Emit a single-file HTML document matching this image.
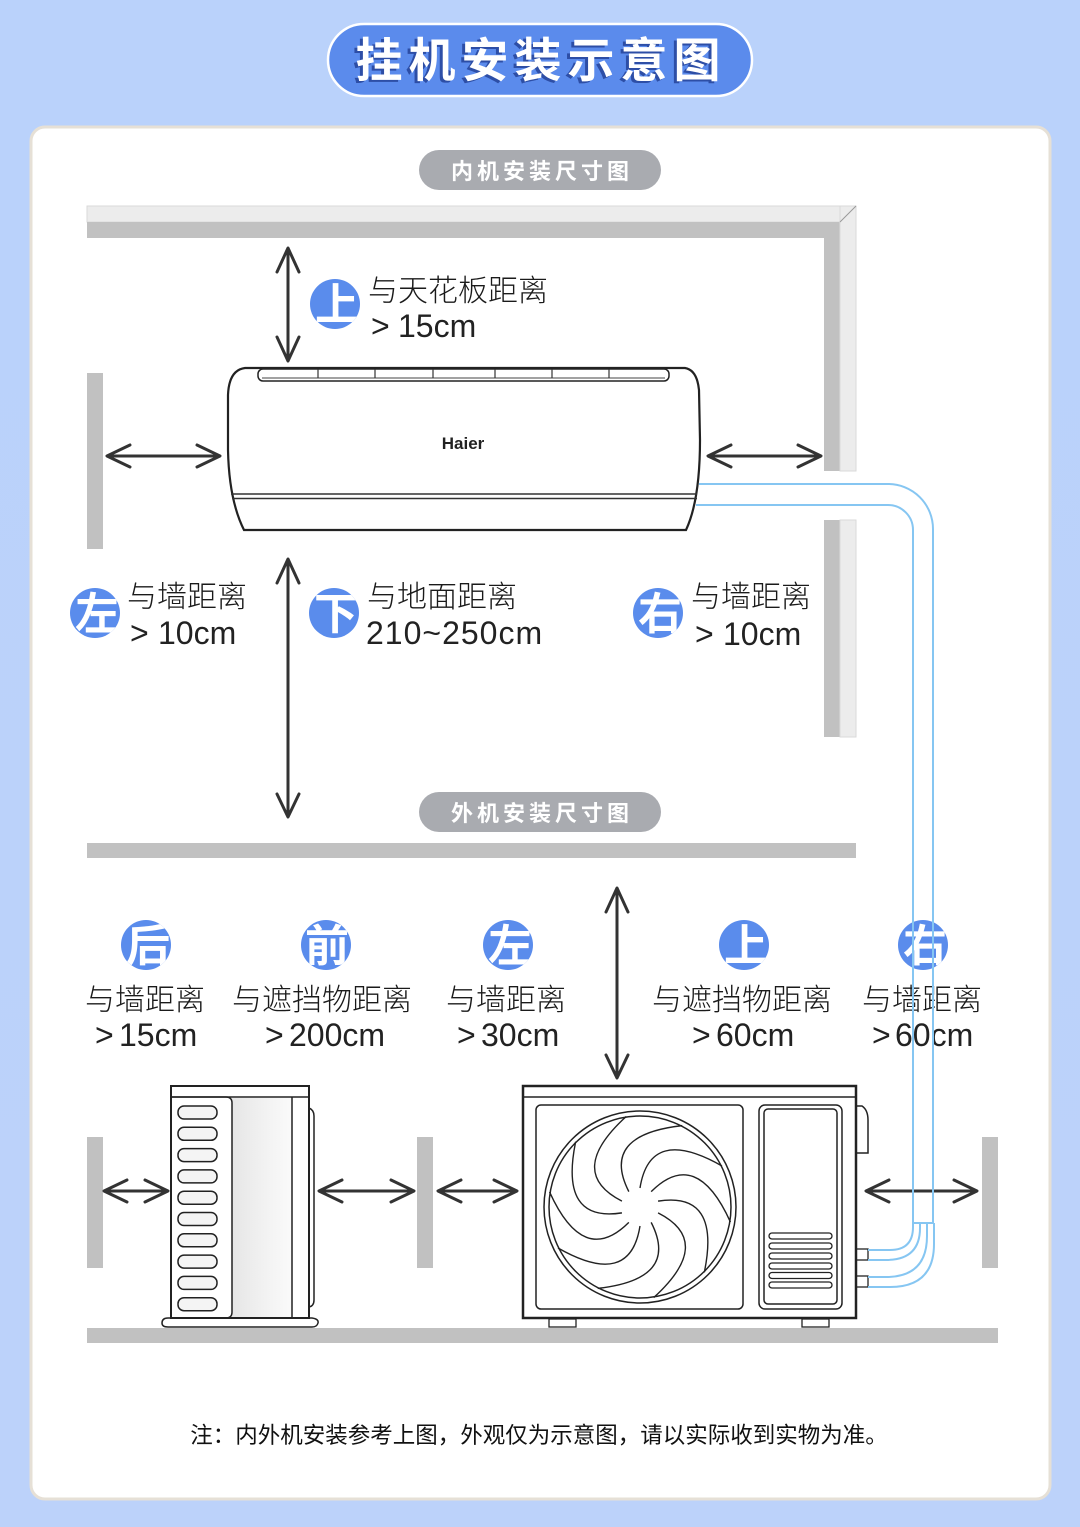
<!DOCTYPE html>
<html><head><meta charset="utf-8"><style>
html,body{margin:0;padding:0;background:#bdd3fa;}
svg{display:block;}
.cjk{font-family:"Liberation Sans","Noto Sans CJK SC",sans-serif;}
.lbl{font-family:"Liberation Sans","Noto Sans CJK SC",sans-serif;font-size:30px;fill:#1a1a1a;font-weight:300;}
.num{font-family:"Liberation Sans","Noto Sans CJK SC",sans-serif;font-size:32px;fill:#222;}
.ic{font-family:"Noto Sans CJK SC","WenQuanYi Zen Hei",sans-serif;font-size:44px;font-weight:bold;fill:#fff;}
.ar{stroke:#333;stroke-width:3;fill:none;stroke-linecap:round;stroke-linejoin:round;}
.ln{stroke:#222;fill:none;}
</style></head><body>
<svg width="1080" height="1527" viewBox="0 0 1080 1527" xmlns="http://www.w3.org/2000/svg">
<defs>
<linearGradient id="bg" x1="0" y1="0" x2="0" y2="1"><stop offset="0" stop-color="#bad2fb"/><stop offset="1" stop-color="#bcd2fa"/></linearGradient>
<linearGradient id="gp" x1="0" y1="0" x2="1" y2="0"><stop offset="0" stop-color="#e6e6e6"/><stop offset="0.6" stop-color="#f3f3f3"/><stop offset="1" stop-color="#fafafa"/></linearGradient>
<clipPath id="c1"><circle cx="335" cy="304" r="25"/></clipPath>
<clipPath id="c2"><circle cx="95" cy="613" r="25"/></clipPath>
<clipPath id="c3"><circle cx="334" cy="613" r="25"/></clipPath>
<clipPath id="c4"><circle cx="658" cy="613" r="25"/></clipPath>
<clipPath id="c5"><circle cx="146" cy="945" r="25"/></clipPath>
<clipPath id="c6"><circle cx="326" cy="945" r="25"/></clipPath>
<clipPath id="c7"><circle cx="508" cy="945" r="25"/></clipPath>
<clipPath id="c8"><circle cx="744" cy="945" r="25"/></clipPath>
<clipPath id="c9"><circle cx="923" cy="945" r="25"/></clipPath>
</defs>
<rect width="1080" height="1527" fill="url(#bg)"/>

<!-- title pill -->
<rect x="328" y="24" width="424" height="72" rx="36" fill="#5b8bec" stroke="#ffffff" stroke-width="2.5"/>
<text x="538" y="79" text-anchor="middle" class="cjk" font-size="47" font-weight="bold" fill="#2d4ea6" letter-spacing="6">挂机安装示意图</text>
<text x="541" y="77" text-anchor="middle" class="cjk" font-size="47" font-weight="bold" fill="#ffffff" letter-spacing="6">挂机安装示意图</text>

<!-- card -->
<rect x="31" y="127" width="1019" height="1372" rx="14" fill="#ffffff" stroke="#e6e0d6" stroke-width="3"/>

<!-- sub pill 1 -->
<rect x="419" y="150" width="242" height="40" rx="20" fill="#a9abb0"/>
<text x="542" y="179" text-anchor="middle" class="cjk" font-size="22" font-weight="bold" fill="#ffffff" letter-spacing="4">内机安装尺寸图</text>

<!-- ceiling & right wall -->
<rect x="87" y="206" width="769" height="16" fill="#ececec" stroke="#dadada" stroke-width="1"/>
<rect x="87" y="222" width="753" height="16" fill="#c1c1c1"/>
<rect x="824" y="222" width="16" height="249" fill="#c1c1c1"/>
<rect x="840" y="206" width="16" height="265" fill="#ececec" stroke="#dadada" stroke-width="1"/>
<line x1="840" y1="222" x2="856" y2="206" stroke="#999" stroke-width="1"/>
<rect x="824" y="520" width="16" height="217" fill="#c1c1c1"/>
<rect x="840" y="520" width="16" height="217" fill="#ececec" stroke="#dadada" stroke-width="1"/>
<!-- left inner wall -->
<rect x="87" y="373" width="16" height="176" fill="#c1c1c1"/>

<!-- indoor unit -->
<path d="M245 368 L685 368 Q697 370 699 390 L700 440 Q700 500 686 530 L244 530 Q229 500 228 450 L228 395 Q229 370 245 368 Z" fill="#fff" class="ln" stroke-width="2.2"/>
<rect x="258" y="369" width="411" height="12" rx="5" class="ln" stroke-width="1.5"/>
<line x1="262" y1="378" x2="665" y2="378" stroke="#444" stroke-width="1"/>
<g stroke="#333" stroke-width="1.2">
<line x1="318" y1="369" x2="318" y2="378"/><line x1="375" y1="369" x2="375" y2="378"/><line x1="433" y1="369" x2="433" y2="378"/><line x1="495" y1="369" x2="495" y2="378"/><line x1="552" y1="369" x2="552" y2="378"/><line x1="609" y1="369" x2="609" y2="378"/>
</g>
<line x1="231" y1="494" x2="697" y2="494" stroke="#333" stroke-width="1.5"/>
<line x1="232" y1="498.5" x2="697" y2="498.5" stroke="#333" stroke-width="1.5"/>
<text x="463" y="449" text-anchor="middle" font-family="Liberation Sans, sans-serif" font-size="17" font-weight="bold" fill="#222">Haier</text>

<!-- indoor arrows -->
<g class="ar">
<line x1="288" y1="249" x2="288" y2="360"/><polyline points="277,272 288,248 299,272"/><polyline points="277,337 288,361 299,337"/>
<line x1="288" y1="560" x2="288" y2="816"/><polyline points="277,583 288,559 299,583"/><polyline points="277,794 288,817 299,794"/>
<line x1="108" y1="456" x2="219" y2="456"/><polyline points="130,445 107,456 130,467"/><polyline points="197,445 220,456 197,467"/>
<line x1="709" y1="456" x2="820" y2="456"/><polyline points="731,445 708,456 731,467"/><polyline points="798,445 821,456 798,467"/>
</g>

<!-- indoor icons -->
<circle cx="335" cy="304" r="25" fill="#5a8cec"/><text x="337" y="320" text-anchor="middle" class="ic" clip-path="url(#c1)">上</text>
<circle cx="95" cy="613" r="25" fill="#5a8cec"/><text x="97" y="629" text-anchor="middle" class="ic" clip-path="url(#c2)">左</text>
<circle cx="334" cy="613" r="25" fill="#5a8cec"/><text x="336" y="629" text-anchor="middle" class="ic" clip-path="url(#c3)">下</text>
<circle cx="658" cy="613" r="25" fill="#5a8cec"/><text x="660" y="629" text-anchor="middle" class="ic" clip-path="url(#c4)">右</text>

<!-- indoor labels -->
<text x="368" y="301" class="lbl">与天花板距离</text>
<text x="371" y="337" class="num">&gt;</text><text x="398" y="337" class="num">15cm</text>
<text x="127" y="607" class="lbl">与墙距离</text>
<text x="130" y="644" class="num">&gt;</text><text x="158" y="644" class="num">10cm</text>
<text x="367" y="607" class="lbl">与地面距离</text>
<text x="366" y="644" class="num" letter-spacing="1">210~250cm</text>
<text x="691" y="607" class="lbl">与墙距离</text>
<text x="695" y="645" class="num">&gt;</text><text x="723" y="645" class="num">10cm</text>

<!-- sub pill 2 -->
<rect x="419" y="792" width="242" height="40" rx="20" fill="#a9abb0"/>
<text x="542" y="821" text-anchor="middle" class="cjk" font-size="22" font-weight="bold" fill="#ffffff" letter-spacing="4">外机安装尺寸图</text>

<!-- slab -->
<rect x="87" y="843" width="769" height="15" fill="#c1c1c1"/>

<!-- outdoor vertical arrow -->
<g class="ar">
<line x1="617" y1="889" x2="617" y2="1077"/><polyline points="606,912 617,888 628,912"/><polyline points="606,1055 617,1078 628,1055"/>
</g>

<!-- outdoor icons -->
<circle cx="146" cy="945" r="25" fill="#5a8cec"/><text x="148" y="961" text-anchor="middle" class="ic" clip-path="url(#c5)">后</text>
<circle cx="326" cy="945" r="25" fill="#5a8cec"/><text x="327" y="961" text-anchor="middle" class="ic" clip-path="url(#c6)">前</text>
<circle cx="508" cy="945" r="25" fill="#5a8cec"/><text x="510" y="961" text-anchor="middle" class="ic" clip-path="url(#c7)">左</text>
<circle cx="744" cy="945" r="25" fill="#5a8cec"/><text x="746" y="961" text-anchor="middle" class="ic" clip-path="url(#c8)">上</text>
<circle cx="923" cy="945" r="25" fill="#5a8cec"/><text x="925" y="961" text-anchor="middle" class="ic" clip-path="url(#c9)">右</text>

<!-- outdoor labels -->
<text x="85" y="1010" class="lbl">与墙距离</text>
<text x="95" y="1046" class="num">&gt;</text><text x="119" y="1046" class="num">15cm</text>
<text x="232" y="1010" class="lbl">与遮挡物距离</text>
<text x="265" y="1046" class="num">&gt;</text><text x="289" y="1046" class="num">200cm</text>
<text x="446" y="1010" class="lbl">与墙距离</text>
<text x="457" y="1046" class="num">&gt;</text><text x="481" y="1046" class="num">30cm</text>
<text x="652" y="1010" class="lbl">与遮挡物距离</text>
<text x="692" y="1046" class="num">&gt;</text><text x="716" y="1046" class="num">60cm</text>
<text x="862" y="1010" class="lbl">与墙距离</text>
<text x="872" y="1046" class="num">&gt;</text><text x="895" y="1046" class="num">60cm</text>

<!-- outdoor walls -->
<rect x="87" y="1137" width="16" height="131" fill="#c1c1c1"/>
<rect x="417" y="1137" width="16" height="131" fill="#c1c1c1"/>
<rect x="982" y="1137" width="16" height="131" fill="#c1c1c1"/>
<rect x="87" y="1328" width="911" height="15" fill="#c1c1c1"/>

<!-- side unit -->
<rect x="171" y="1086" width="138" height="232" fill="#fff" class="ln" stroke-width="2"/>
<line x1="171" y1="1097" x2="309" y2="1097" stroke="#222" stroke-width="1.5"/>
<rect x="232" y="1098" width="60" height="219" fill="url(#gp)"/>
<path d="M171 1097 L226 1097 Q232 1097 232 1103 L232 1312 Q232 1318 226 1318" class="ln" stroke-width="1.5"/>
<line x1="292" y1="1097" x2="292" y2="1318" stroke="#222" stroke-width="1.5"/>
<g fill="#f4f4f4" stroke="#222" stroke-width="1.5">
<rect x="178" y="1106" width="39" height="13" rx="6"/>
<rect x="178" y="1127.3" width="39" height="13" rx="6"/>
<rect x="178" y="1148.6" width="39" height="13" rx="6"/>
<rect x="178" y="1169.9" width="39" height="13" rx="6"/>
<rect x="178" y="1191.2" width="39" height="13" rx="6"/>
<rect x="178" y="1212.5" width="39" height="13" rx="6"/>
<rect x="178" y="1233.8" width="39" height="13" rx="6"/>
<rect x="178" y="1255.1" width="39" height="13" rx="6"/>
<rect x="178" y="1276.4" width="39" height="13" rx="6"/>
<rect x="178" y="1297.7" width="39" height="13" rx="6"/>
</g>
<path d="M309 1108 Q314 1110 314 1116 L314 1300 Q314 1306 309 1307" class="ln" stroke-width="1.5"/>
<path d="M168 1318 L312 1318 Q319 1319 318 1323 Q317 1327 312 1327 L168 1327 Q162 1327 162 1323 Q162 1318 168 1318 Z" fill="#fff" class="ln" stroke-width="1.5"/>

<!-- front unit -->
<rect x="523" y="1086" width="333" height="232" fill="#fff" class="ln" stroke-width="2.5"/>
<line x1="523" y1="1097" x2="856" y2="1097" stroke="#222" stroke-width="1.5"/>
<rect x="536" y="1105" width="207" height="204" rx="5" fill="#fff" class="ln" stroke-width="1.5"/>
<circle cx="640" cy="1207" r="96" fill="#fff" class="ln" stroke-width="1.5"/>
<circle cx="640" cy="1207" r="91" fill="#f3f3f3" class="ln" stroke-width="1.5"/>
<circle cx="640" cy="1207" r="19" fill="#fff"/>
<g class="ln" stroke-width="1.4">
<path d="M640 1188 Q650 1125 722 1166"/>
<path d="M640 1188 Q650 1125 722 1166" transform="rotate(36 640 1207)"/>
<path d="M640 1188 Q650 1125 722 1166" transform="rotate(72 640 1207)"/>
<path d="M640 1188 Q650 1125 722 1166" transform="rotate(108 640 1207)"/>
<path d="M640 1188 Q650 1125 722 1166" transform="rotate(144 640 1207)"/>
<path d="M640 1188 Q650 1125 722 1166" transform="rotate(180 640 1207)"/>
<path d="M640 1188 Q650 1125 722 1166" transform="rotate(216 640 1207)"/>
<path d="M640 1188 Q650 1125 722 1166" transform="rotate(252 640 1207)"/>
<path d="M640 1188 Q650 1125 722 1166" transform="rotate(288 640 1207)"/>
<path d="M640 1188 Q650 1125 722 1166" transform="rotate(324 640 1207)"/>
</g>
<rect x="759" y="1105" width="83" height="204" rx="6" fill="#fff" class="ln" stroke-width="1.5"/>
<rect x="764" y="1109" width="73" height="195" rx="4" fill="#fff" class="ln" stroke-width="1.5"/>
<g fill="#fff" stroke="#222" stroke-width="1.3">
<rect x="769" y="1233" width="63" height="6" rx="3"/>
<rect x="769" y="1243" width="63" height="6" rx="3"/>
<rect x="769" y="1253" width="63" height="6" rx="3"/>
<rect x="769" y="1263" width="63" height="6" rx="3"/>
<rect x="769" y="1272.5" width="63" height="6" rx="3"/>
<rect x="769" y="1282" width="63" height="6" rx="3"/>
</g>
<rect x="549" y="1319" width="27" height="8" fill="#fff" class="ln" stroke-width="1.3"/>
<rect x="802" y="1319" width="27" height="8" fill="#fff" class="ln" stroke-width="1.3"/>
<path d="M856 1106 L862 1106 Q868 1110 868 1120 L868 1153 L856 1153" fill="#fff" class="ln" stroke-width="1.5"/>
<rect x="856" y="1249" width="12" height="11" fill="#fff" class="ln" stroke-width="1.3"/>
<rect x="856" y="1276" width="12" height="11" fill="#fff" class="ln" stroke-width="1.3"/>

<!-- outdoor arrows -->
<g class="ar">
<line x1="105" y1="1191" x2="167" y2="1191"/><polyline points="127,1180 104,1191 127,1202"/><polyline points="145,1180 168,1191 145,1202"/>
<line x1="320" y1="1191" x2="413" y2="1191"/><polyline points="342,1180 319,1191 342,1202"/><polyline points="391,1180 414,1191 391,1202"/>
<line x1="439" y1="1191" x2="516" y2="1191"/><polyline points="461,1180 438,1191 461,1202"/><polyline points="494,1180 517,1191 494,1202"/>
<line x1="867" y1="1191" x2="976" y2="1191"/><polyline points="889,1180 866,1191 889,1202"/><polyline points="954,1180 977,1191 954,1202"/>
</g>

<!-- pipes -->
<g fill="none" stroke="#86c6f2" stroke-width="2">
<path d="M699 484 L888 484 A45 45 0 0 1 933 529 L933 1223"/>
<path d="M696 505 L888 505 A25 25 0 0 1 913 530 L913 1223"/>
<line x1="913" y1="1223" x2="933" y2="1223"/>
<path d="M868 1250 L890 1250 Q913 1250 913 1227 L913 1223"/>
<path d="M868 1260 L886 1260 Q920 1260 920 1228 L920 1223"/>
<path d="M868 1277 L886 1277 Q927 1277 927 1236 L927 1223"/>
<path d="M868 1287 L890 1287 Q934 1287 934 1244 L934 1223"/>
</g>

<!-- note -->
<text x="539" y="1443" text-anchor="middle" class="cjk" font-size="22.5" fill="#111">注：内外机安装参考上图，外观仅为示意图，请以实际收到实物为准。</text>
</svg>
</body></html>
